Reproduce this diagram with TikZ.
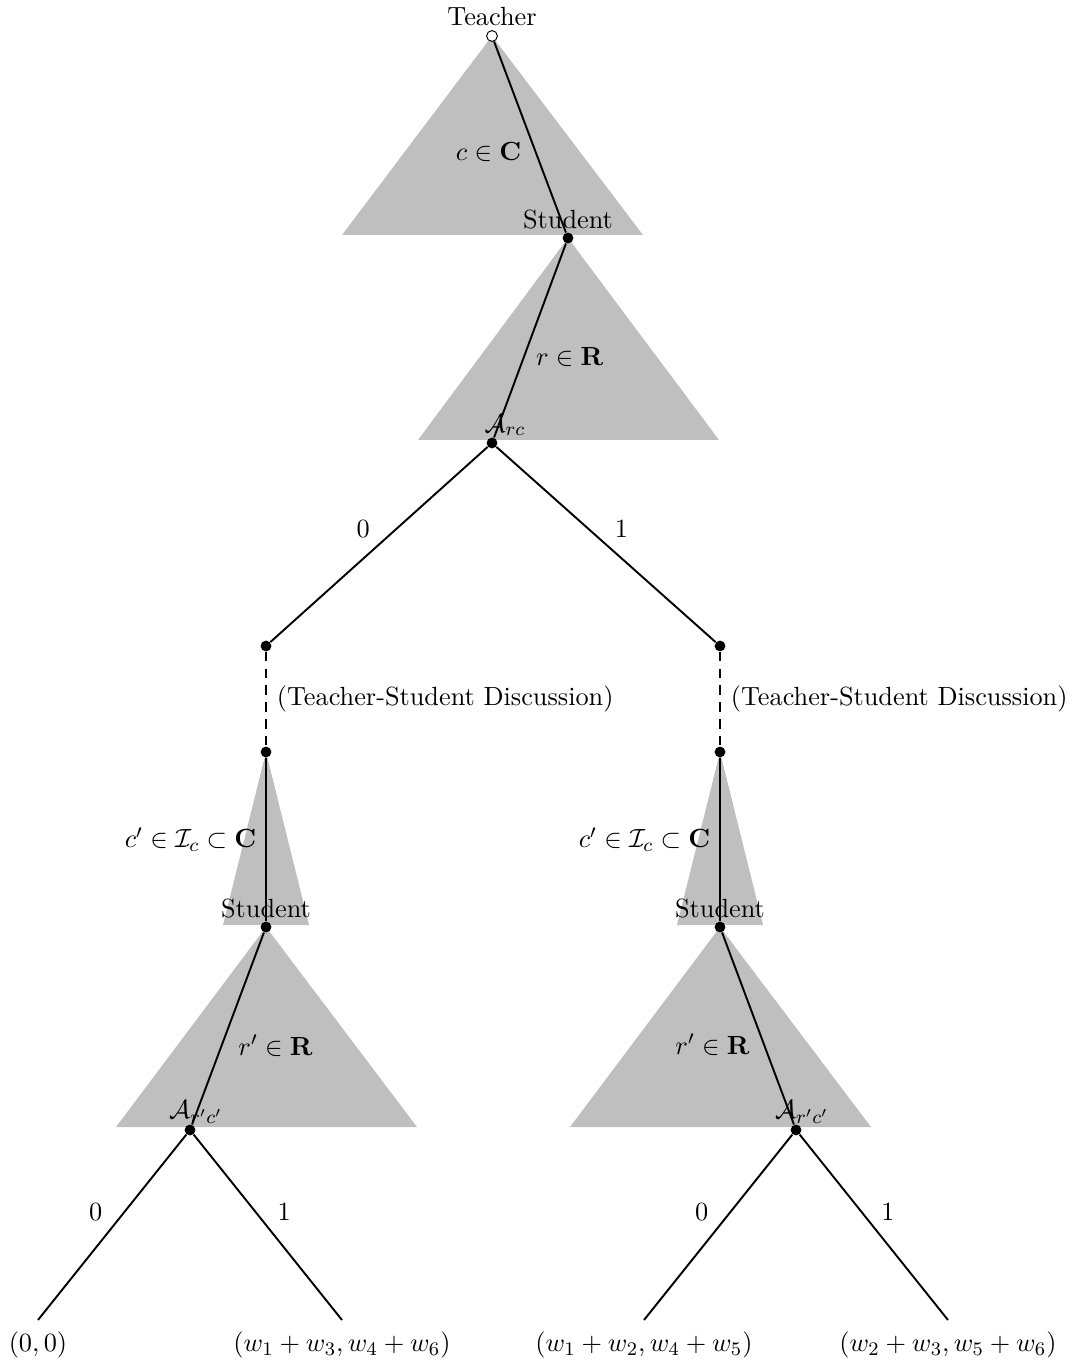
\documentclass[tikz,border=0pt,11pt]{standalone}
\usepackage{amsmath,amssymb}
\usetikzlibrary{positioning,calc}

\tikzset{
  move/.style={draw=black,thick},
  info/.style={draw=black,thick,dash pattern=on 4pt off 3pt},
  dotnode/.style={circle,fill=black,inner sep=0pt,minimum size=4.5pt},
  rootnode/.style={circle,draw=black,fill=white,thin,inner sep=0pt,minimum size=4.5pt},
  subtree/.style={fill=black!25,draw=none}
}

\begin{document}
\begin{tikzpicture}[x=0.4167pt,y=-0.4167pt]
  \useasboundingbox (0,0) rectangle (1073,1367);

  % grey subtrees
  \fill[subtree] (492,36) -- (643,235) -- (342,235) -- cycle;
  \fill[subtree] (568,238) -- (719,440) -- (418,440) -- cycle;
  \fill[subtree] (266,752) -- (309,925) -- (223,925) -- cycle;
  \fill[subtree] (266,927) -- (417,1127) -- (116,1127) -- cycle;
  \fill[subtree] (720,752) -- (763,925) -- (677,925) -- cycle;
  \fill[subtree] (720,927) -- (871,1127) -- (570,1127) -- cycle;

  % decision points
  \node[rootnode] (teacher) at (492,36) {};
  \node[dotnode] (stud) at (568,238) {};
  \node[dotnode] (arc) at (492,443) {};
  \node[dotnode] (l0) at (266,646) {};
  \node[dotnode] (r0) at (720,646) {};
  \node[dotnode] (l1) at (266,752) {};
  \node[dotnode] (r1) at (720,752) {};
  \node[dotnode] (lstud) at (266,927) {};
  \node[dotnode] (rstud) at (720,927) {};
  \node[dotnode] (larc) at (190,1130) {};
  \node[dotnode] (rarc) at (796,1130) {};
  \coordinate (ll) at (38,1320);
  \coordinate (lr) at (342,1320);
  \coordinate (rl) at (644,1320);
  \coordinate (rr) at (948,1320);

  % labels of players
  \node (tlab) at (492,17) {Teacher};
  \node (slab) at (568,220) {Student};
  \node (alab) at (505,425) {$\mathcal{A}_{rc}$};
  \node (lslab) at (266,909) {Student};
  \node (rslab) at (720,909) {Student};
  \node (lalab) at (196,1112) {$\mathcal{A}_{r'c'}$};
  \node (ralab) at (802,1112) {$\mathcal{A}_{r'c'}$};

  % moves
  \draw[move] (teacher) -- node[pos=0.58,left=2pt] {$c\in\mathbf{C}$} (stud);
  \draw[move] (stud) -- node[pos=0.585,right=1pt] {$r\in\mathbf{R}$} (arc);
  \draw[move] (arc) -- node[pos=0.42,left=7pt] {$0$} (l0);
  \draw[move] (arc) -- node[pos=0.42,right=7pt] {$1$} (r0);
  \draw[info] (l0) -- node[right=0.5pt] {(Teacher-Student Discussion)} (l1);
  \draw[info] (r0) -- node[right=0.5pt] {(Teacher-Student Discussion)} (r1);
  \draw[move] (l1) -- node[left=0pt] {$c'\in\mathcal{I}_c\subset\mathbf{C}$} (lstud);
  \draw[move] (r1) -- node[left=0pt] {$c'\in\mathcal{I}_c\subset\mathbf{C}$} (rstud);
  \draw[move] (lstud) -- node[pos=0.59,right=3pt] {$r'\in\mathbf{R}$} (larc);
  \draw[move] (rstud) -- node[pos=0.584,left=2pt] {$r'\in\mathbf{R}$} (rarc);
  \draw[move] (larc) -- node[pos=0.42,left=5pt] {$0$} (ll);
  \draw[move] (larc) -- node[pos=0.42,right=5pt] {$1$} (lr);
  \draw[move] (rarc) -- node[pos=0.42,left=5pt] {$0$} (rl);
  \draw[move] (rarc) -- node[pos=0.42,right=4pt] {$1$} (rr);

  % payoffs
  \node (p1) at (38,1345) {$(0,0)$};
  \node (p2) at (342,1345) {$(w_1+w_3,w_4+w_6)$};
  \node (p3) at (644,1345) {$(w_1+w_2,w_4+w_5)$};
  \node (p4) at (948,1345) {$(w_2+w_3,w_5+w_6)$};
\end{tikzpicture}
\end{document}
